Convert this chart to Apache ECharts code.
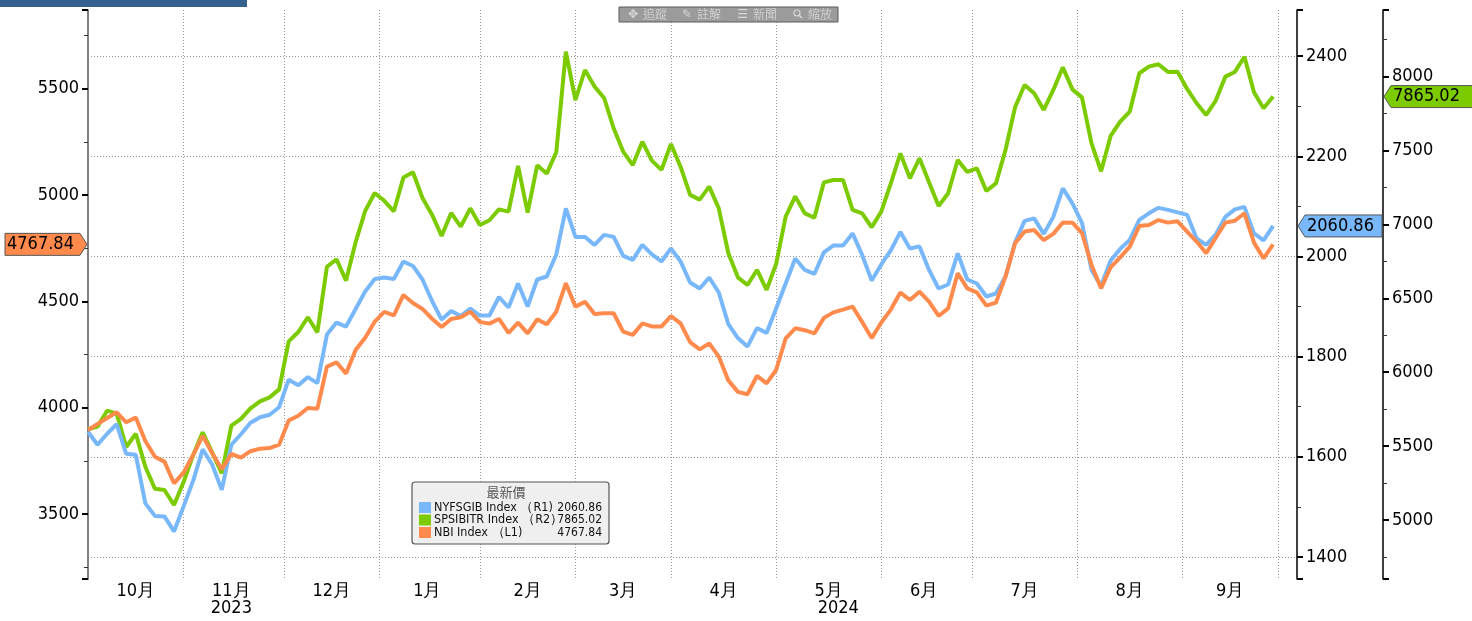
<!DOCTYPE html>
<html><head><meta charset="utf-8">
<script src="https://cdn.jsdelivr.net/npm/echarts@6/dist/echarts.min.js"></script>
<style>html,body{margin:0;padding:0;background:#fff}#c{width:1472px;height:621px}</style>
</head><body><div id="c"></div>
<script>
// ---- data ----
const seriesNames = ['NYFSGIB Index （R1)', 'SPSIBITR Index （R2）', 'NBI Index （L1)'];
const legendTitle = '最新價';
const firstDay = '2023-10-04';
const lastAxisDay = '2024-10-07';
const holidays = ['2023-11-23','2023-12-25','2024-01-01','2024-01-15','2024-02-19','2024-03-29','2024-05-27','2024-06-19','2024-07-04','2024-09-02'];
const sampleStep = 2; // one value every 2 trading days, starting at firstDay
const nyfsgib = [1650,1624,1646,1665,1606,1604,1507,1482,1481,1451,
 1501,1552,1615,1584,1534,1624,1645,1668,1679,1684,
 1699,1754,1743,1759,1747,1844,1868,1860,1895,1930,
 1955,1958,1955,1990,1981,1954,1911,1874,1891,1881,
 1896,1882,1882,1919,1898,1946,1900,1954,1960,2004,
 2096,2039,2039,2023,2043,2039,2001,1993,2023,2004,
 1990,2016,1990,1948,1936,1958,1928,1865,1837,1820,
 1857,1847,1896,1946,1996,1973,1965,2008,2022,2022,
 2046,2003,1952,1984,2012,2049,2016,2020,1973,1936,
 1944,2006,1954,1946,1920,1926,1960,2028,2071,2076,
 2045,2079,2136,2106,2067,1973,1941,1992,2015,2033,
 2073,2086,2097,2093,2088,2083,2036,2023,2044,2079,
 2094,2099,2046,2032,2060.86];
const spsibitr = [5614,5632,5740,5720,5494,5584,5361,5212,5203,5102,
 5257,5440,5593,5456,5316,5638,5684,5756,5803,5830,
 5884,6209,6272,6372,6270,6714,6764,6620,6879,7091,
 7213,7160,7089,7317,7353,7179,7066,6922,7078,6985,
 7109,6996,7028,7102,7087,7396,7080,7400,7344,7490,
 8169,7842,8045,7933,7856,7651,7493,7402,7560,7432,
 7369,7544,7391,7200,7168,7256,7109,6805,6642,6590,
 6692,6557,6732,7053,7190,7075,7046,7285,7301,7301,
 7098,7075,6981,7087,7278,7481,7312,7448,7285,7125,
 7211,7436,7355,7380,7226,7278,7504,7793,7944,7887,
 7775,7910,8063,7914,7860,7549,7360,7599,7696,7763,
 8023,8068,8084,8032,8034,7917,7820,7741,7838,8000,
 8032,8135,7894,7786,7865.02];
const nbi = [3895,3923,3951,3978,3931,3953,3843,3769,3746,3644,
 3694,3777,3867,3785,3710,3782,3765,3795,3807,3810,
 3826,3939,3962,3998,3995,4193,4213,4160,4271,4329,
 4404,4450,4434,4530,4492,4464,4418,4379,4417,4425,
 4451,4403,4395,4417,4351,4400,4349,4415,4392,4451,
 4585,4475,4498,4440,4444,4444,4357,4342,4396,4382,
 4381,4431,4396,4308,4274,4302,4240,4128,4074,4063,
 4149,4114,4177,4326,4373,4364,4349,4422,4448,4461,
 4475,4403,4327,4400,4461,4541,4506,4545,4498,4431,
 4467,4632,4561,4542,4480,4494,4616,4773,4828,4835,
 4788,4817,4871,4870,4821,4671,4561,4660,4707,4757,
 4854,4859,4882,4870,4876,4828,4781,4726,4799,4870,
 4879,4914,4776,4702,4767.84];
const axisL1 = {min: 3194, max: 5870, step: 500};
const axisR1 = {min: 1356, max: 2492, step: 200};
const axisR2 = {min: 4601, max: 8451, step: 500};
const toolbarItems = ['追蹤', '註解', '新聞', '縮放'];

// ---- trading-day calendar ----
function fmt(d){return d.toISOString().slice(0,10);}
const days = [];
(function(){
  const hs = new Set(holidays);
  let d = new Date(firstDay + 'T00:00:00Z');
  const end = new Date(lastAxisDay + 'T00:00:00Z');
  while (d <= end) {
    const w = d.getUTCDay();
    const s = fmt(d);
    if (w !== 0 && w !== 6 && !hs.has(s)) days.push(s);
    d = new Date(d.getTime() + 86400000);
  }
})();
const monthStart = new Set(), monthMid = new Set(), yearMid = new Set();
(function(){
  const groups = {}, years = {};
  days.forEach((s,i)=>{
    const m = s.slice(0,7), y = s.slice(0,4);
    (groups[m] = groups[m] || []).push(i);
    (years[y] = years[y] || []).push(i);
    if (i > 0 && days[i-1].slice(0,7) !== m) monthStart.add(i);
  });
  Object.keys(groups).forEach(m=>{
    const g = groups[m];
    if (m === lastAxisDay.slice(0,7)) return;
    monthMid.add(Math.ceil((g[0] + g[g.length-1]) / 2));
  });
  Object.keys(years).forEach(y=>{
    const g = years[y];
    yearMid.add(Math.round((g[0] + g[g.length-1]) / 2));
  });
})();
const toPairs = arr => arr.map((v,k)=>[k*sampleStep, v]);

// ---- styles ----
const FONT = '"DejaVu Sans Condensed","DejaVu Sans",sans-serif';
const C_BLUE = '#78b8fa', C_GREEN = '#7ccb00', C_ORANGE = '#ff8a4c';
const GRID = {left: 88, right: 1472 - 1297, top: 10, bottom: 621 - 579};
const dotted = {type: [1, 2], color: '#9a9a9a', width: 1};

function yAxis(cfg, pos, offset, lineColor, lineWidth, splitShow){
  return {
    type: 'value', position: pos, offset: offset,
    min: cfg.min, max: cfg.max, splitNumber: Math.round((cfg.max-cfg.min)/cfg.step),
    minInterval: cfg.step, maxInterval: cfg.step,
    axisLine: {show: true, onZero: false, lineStyle: {color: lineColor, width: lineWidth}},
    axisTick: {show: true, length: 6, lineStyle: {color: '#000', width: 2}},
    minorTick: {show: true, splitNumber: 2, length: 4, lineStyle: {color: '#333', width: 1}},
    axisLabel: {show: true, margin: 9, color: '#000', fontSize: 18, fontFamily: FONT,
      formatter: v => String(Math.round(v)),
      showMinLabel: false, showMaxLabel: false},
    splitLine: {show: splitShow, showMinLine: false, showMaxLine: false, lineStyle: dotted}
  };
}

const chart = echarts.init(document.getElementById('c'));
const option = {
  animation: false,
  backgroundColor: '#ffffff',
  grid: GRID,
  xAxis: [
    {type: 'category', data: days, boundaryGap: false,
     axisLine: {show: false}, axisTick: {show: false},
     splitLine: {show: true, interval: (i)=>monthStart.has(i), lineStyle: dotted},
     axisLabel: {interval: (i)=>monthMid.has(i), formatter: v => (+v.slice(5,7)) + '月',
       margin: 3, color: '#000', fontSize: 18, fontFamily: FONT}},
    {type: 'category', data: days, boundaryGap: false, position: 'bottom', offset: 17,
     axisLine: {show: false}, axisTick: {show: false}, splitLine: {show: false},
     axisLabel: {interval: (i)=>yearMid.has(i), formatter: v => v.slice(0,4),
       margin: 3, color: '#000', fontSize: 18, fontFamily: FONT}}
  ],
  yAxis: [
    yAxis(axisL1, 'left', 0, '#808080', 2, false),
    yAxis(axisR1, 'right', 0, '#000', 1.5, true),
    yAxis(axisR2, 'right', 86, '#000', 1.5, false)
  ],
  series: [
    {name: seriesNames[1], type: 'line', xAxisIndex: 0, yAxisIndex: 2, data: toPairs(spsibitr),
     showSymbol: false, lineStyle: {color: C_GREEN, width: 4}, itemStyle: {color: C_GREEN}, z: 2},
    {name: seriesNames[0], type: 'line', xAxisIndex: 0, yAxisIndex: 1, data: toPairs(nyfsgib),
     showSymbol: false, lineStyle: {color: C_BLUE, width: 4}, itemStyle: {color: C_BLUE}, z: 3},
    {name: seriesNames[2], type: 'line', xAxisIndex: 0, yAxisIndex: 0, data: toPairs(nbi),
     showSymbol: false, lineStyle: {color: C_ORANGE, width: 4}, itemStyle: {color: C_ORANGE}, z: 4}
  ]
};
chart.setOption(option);

// ---- overlays: last-value flags, legend box, toolbar ----
const last = a => a[a.length-1];
const yO = chart.convertToPixel({yAxisIndex: 0}, last(nbi));
const yB = chart.convertToPixel({yAxisIndex: 1}, last(nyfsgib));
const yG = chart.convertToPixel({yAxisIndex: 2}, last(spsibitr));
const H = 11;
function flagRight(tipX, y, w, fill, txt){ // arrow points left to axis at tipX
  return [
    {type: 'polygon', z: 50, shape: {points: [[tipX, y], [tipX+7, y-H], [tipX+w, y-H], [tipX+w, y+H], [tipX+7, y+H]]},
     style: {fill: fill, stroke: '#555', lineWidth: 1}},
    {type: 'text', z: 51, x: tipX + 9, y: y, style: {text: txt, font: '18px ' + FONT, fill: '#000', verticalAlign: 'middle'}}
  ];
}
const g = [];
g.push({type: 'polygon', z: 50, shape: {points: [[5, yO-H], [80, yO-H], [87, yO], [80, yO+H], [5, yO+H]]},
  style: {fill: C_ORANGE, stroke: '#555', lineWidth: 1}});
g.push({type: 'text', z: 51, x: 7, y: yO, style: {text: last(nbi).toFixed(2), font: '18px ' + FONT, fill: '#000', verticalAlign: 'middle'}});
g.push(...flagRight(1298, yB, 84, C_BLUE, last(nyfsgib).toFixed(2)));
g.push(...flagRight(1384, yG, 100, C_GREEN, last(spsibitr).toFixed(2)));

// top-left bar
g.push({type: 'rect', z: 60, shape: {x: 0, y: 0, width: 247, height: 7}, style: {fill: '#35608f'}});

// toolbar
g.push({type: 'rect', z: 60, shape: {x: 619, y: 7, width: 219, height: 15}, style: {fill: '#9b9b9b', stroke: '#5a5a5a', lineWidth: 1}});
const tbX = [643, 697, 753, 808];
const tbIcons = ['✥', '✎', '☰', ''];
toolbarItems.forEach((t, i)=>{
  g.push({type: 'text', z: 61, x: tbX[i], y: 14.5, style: {text: t, font: '12px "Noto Sans CJK TC", sans-serif', fill: '#cfcfcf', verticalAlign: 'middle'}});
  if (tbIcons[i]) g.push({type: 'text', z: 61, x: tbX[i] - 5, y: 14.5, style: {text: tbIcons[i], font: '12px "DejaVu Sans", sans-serif', fill: '#d8d8d8', align: 'right', verticalAlign: 'middle'}});
});
g.push({type: 'circle', z: 61, shape: {cx: 797, cy: 13, r: 3}, style: {fill: 'none', stroke: '#d8d8d8', lineWidth: 1.2}});
g.push({type: 'line', z: 61, shape: {x1: 799, y1: 15, x2: 802, y2: 18}, style: {stroke: '#d8d8d8', lineWidth: 1.5}});

// legend box
const LX = 412, LY = 482;
g.push({type: 'rect', z: 70, shape: {x: LX, y: LY, width: 197, height: 62, r: 3}, style: {fill: '#efefef', stroke: '#555', lineWidth: 1.2}});
g.push({type: 'text', z: 71, x: LX + 94, y: LY + 10.5, style: {text: legendTitle, font: '13px "Noto Sans CJK TC", sans-serif', fill: '#555', align: 'center', verticalAlign: 'middle'}});
const rows = [[seriesNames[0], C_BLUE, last(nyfsgib)], [seriesNames[1], C_GREEN, last(spsibitr)], [seriesNames[2], C_ORANGE, last(nbi)]];
rows.forEach((r, i)=>{
  const cy = LY + 25.5 + i * 12.5;
  g.push({type: 'rect', z: 71, shape: {x: LX + 7, y: cy - 5.5, width: 12, height: 11}, style: {fill: r[1]}});
  g.push({type: 'text', z: 71, x: LX + 22, y: cy, style: {text: r[0], font: '12.5px ' + FONT, fill: '#111', verticalAlign: 'middle'}});
  g.push({type: 'text', z: 71, x: LX + 190, y: cy, style: {text: r[2].toFixed(2), font: '12px ' + FONT, fill: '#111', align: 'right', verticalAlign: 'middle'}});
});
chart.setOption({graphic: g});
</script></body></html>
